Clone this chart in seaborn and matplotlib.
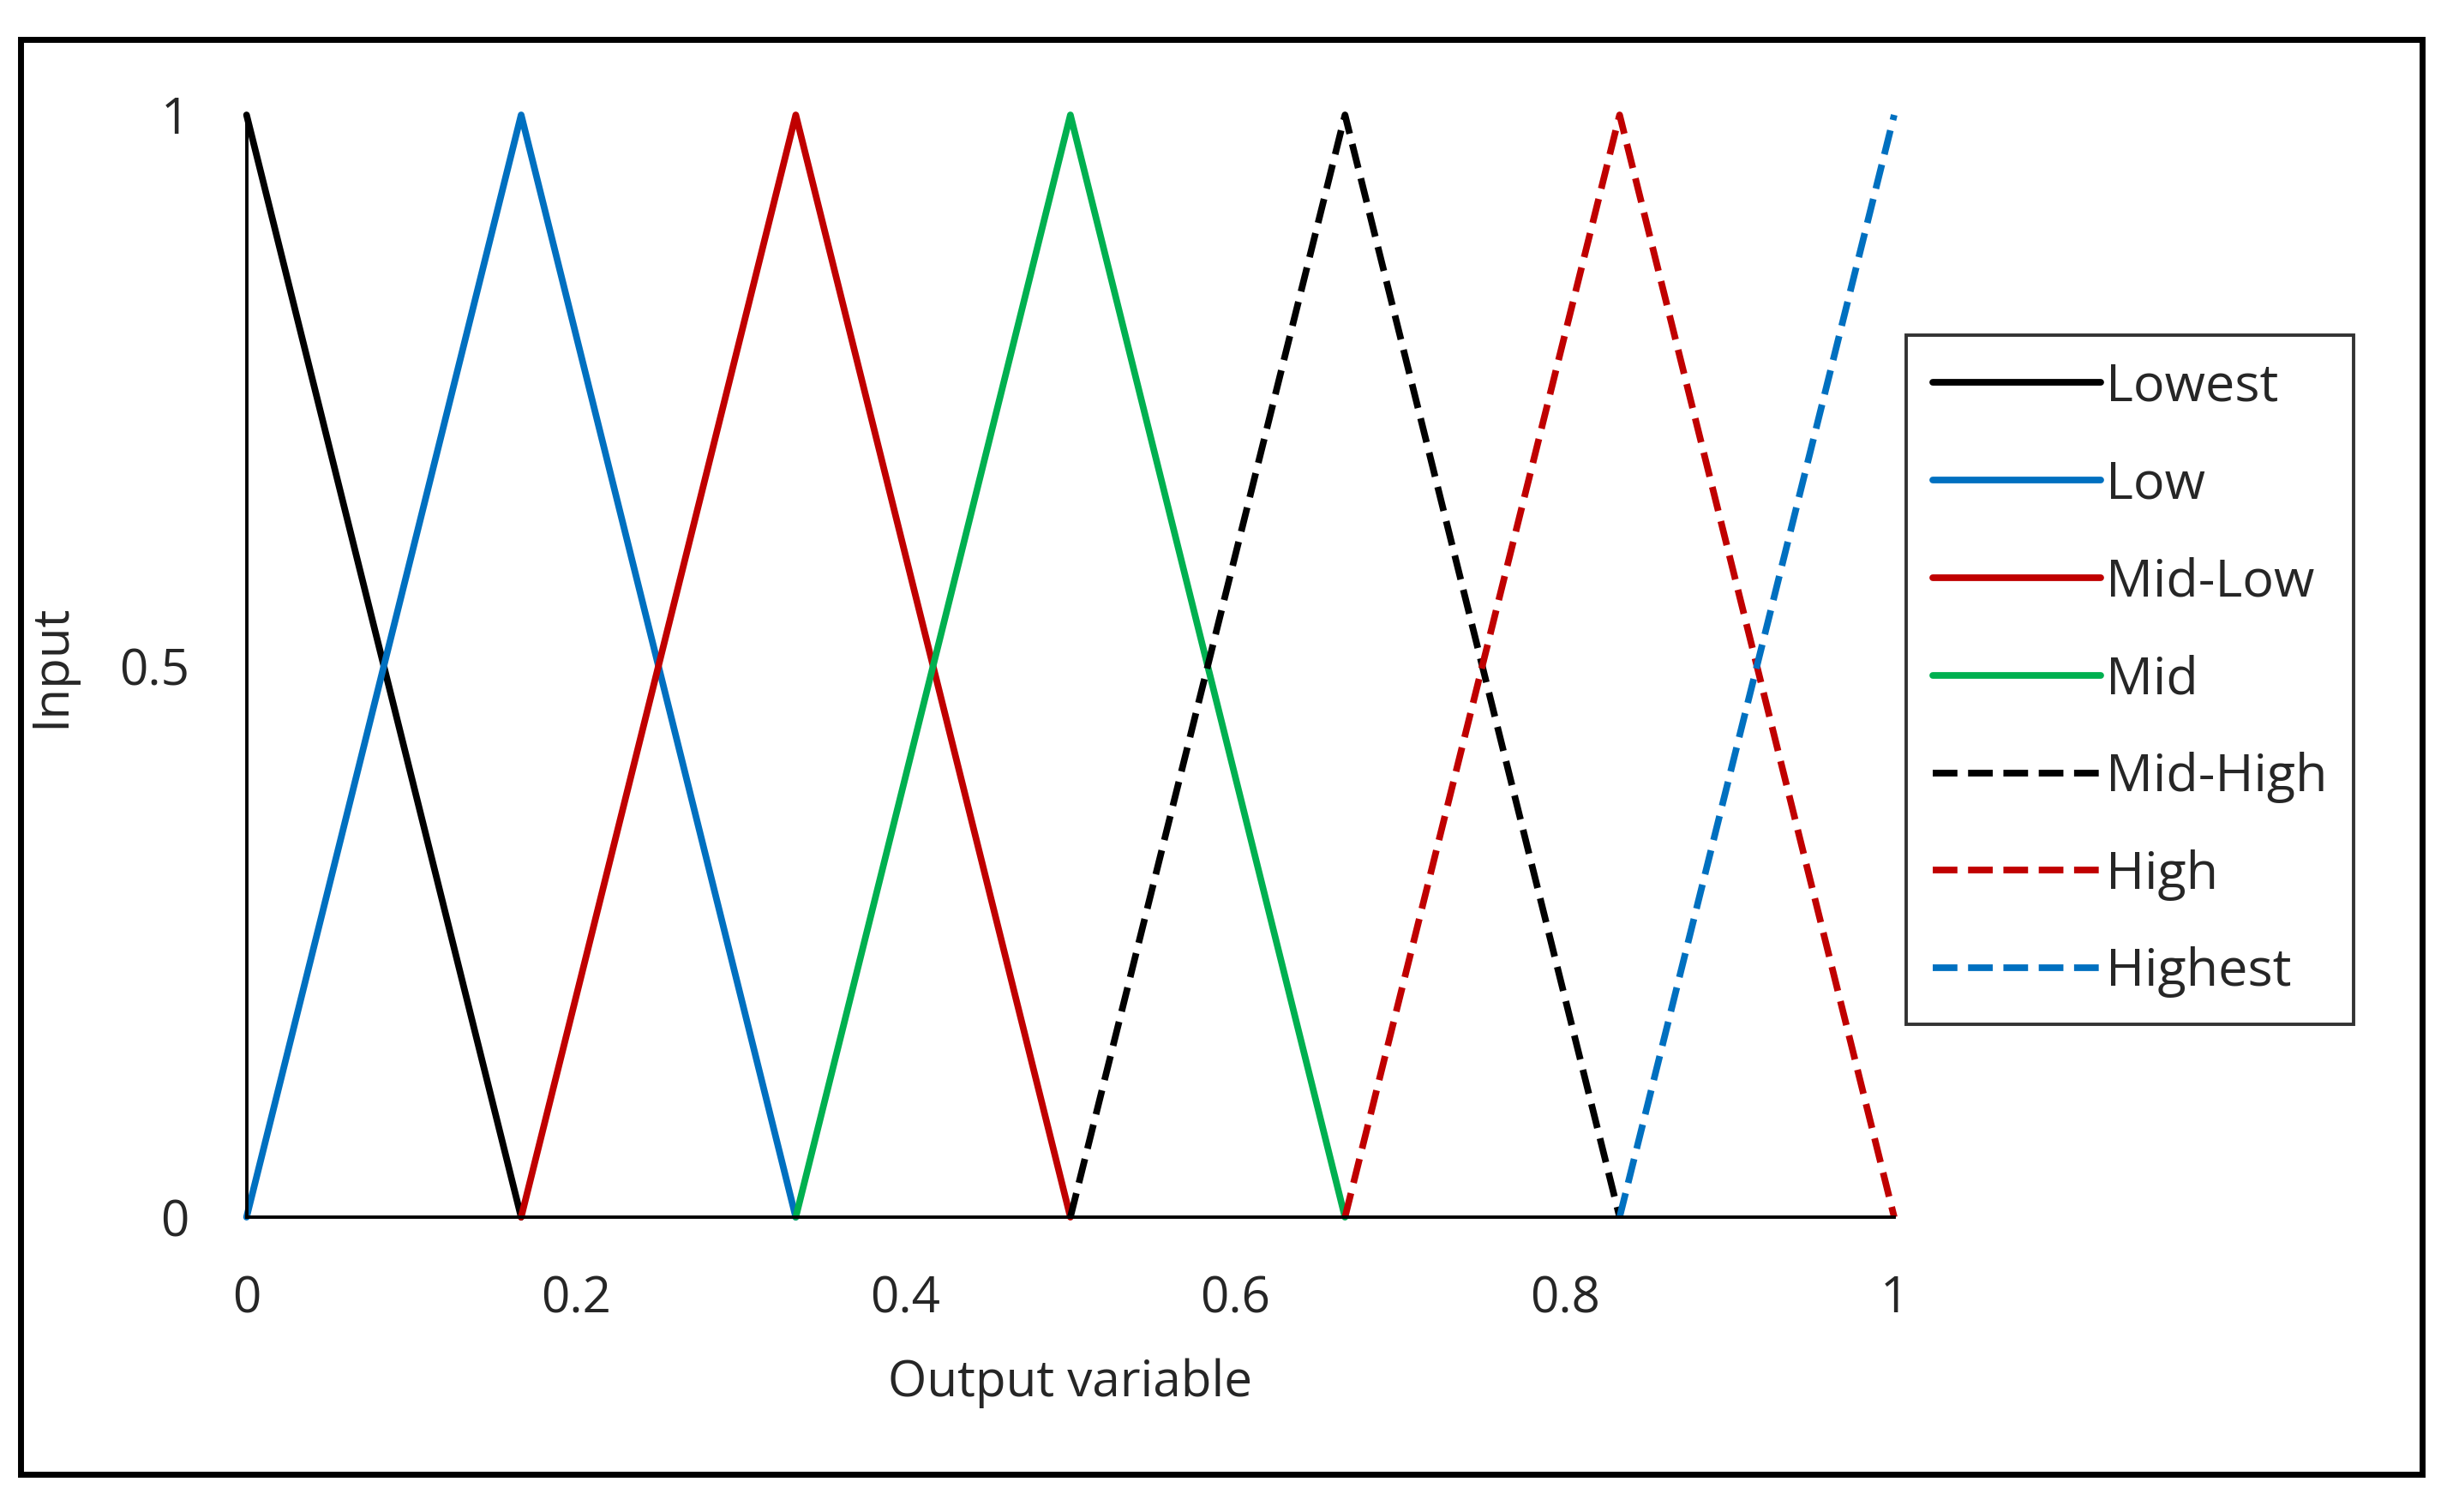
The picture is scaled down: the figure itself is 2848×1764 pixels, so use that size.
import matplotlib
matplotlib.use("Agg")
import matplotlib.pyplot as plt
import seaborn as sns
import pandas as pd
from matplotlib.patches import Rectangle

names = ["Lowest", "Low", "Mid-Low", "Mid", "Mid-High", "High", "Highest"]
xs = [[0, 1/6], [0, 1/6, 2/6], [1/6, 2/6, 3/6], [2/6, 3/6, 4/6],
      [3/6, 4/6, 5/6], [4/6, 5/6, 1], [5/6, 1]]
ys = [[1, 0], [0, 1, 0], [0, 1, 0], [0, 1, 0], [0, 1, 0], [0, 1, 0], [0, 1]]
colors = ["#000000", "#0070C0", "#C00000", "#00B050", "#000000", "#C00000", "#0070C0"]
styles = ["-", "-", "-", "-", "--", "--", "--"]

sns.set_style("white")
plt.rcParams['font.family'] = ['Open Sans', 'DejaVu Sans']
fig = plt.figure(figsize=(14.24, 8.82), dpi=200)
ax = fig.add_axes([0.101, 0.195, 0.675, 0.729])
for n, x, y, c, s in zip(names, xs, ys, colors, styles):
    df = pd.DataFrame({"x": x, "y": y})
    sns.lineplot(data=df, x="x", y="y", ax=ax, color=c, linestyle=s, linewidth=2.8, label=n)
ax.set_xlim(0, 1)
ax.set_ylim(0, 1)
ax.set_xticks([0, 0.2, 0.4, 0.6, 0.8, 1])
ax.set_xticklabels(["0", "0.2", "0.4", "0.6", "0.8", "1"])
ax.set_yticks([0, 0.5, 1])
ax.set_yticklabels(["0", "0.5", "1"])
ax.tick_params(labelsize=21, length=0, pad=24)
ax.set_xlabel("Output variable", fontsize=21, labelpad=14)
ax.set_ylabel("Input", fontsize=21)
ax.yaxis.set_label_coords(-0.103, 0.5)
for sp in ["top", "right"]:
    ax.spines[sp].set_visible(False)
for sp in ["left", "bottom"]:
    ax.spines[sp].set_color("black")
    ax.spines[sp].set_linewidth(1.4)
for l in ax.lines:
    l.set_clip_on(False)
leg = ax.legend(loc="upper left", bbox_to_anchor=(1.0075, 0.8), fontsize=22,
                frameon=True, fancybox=False, edgecolor="black", handlelength=3.2,
                handletextpad=0.1, labelspacing=0.88, borderpad=0.5, borderaxespad=0)
leg.get_frame().set_linewidth(1.4)
fig.patches.append(Rectangle((0.0083, 0.025), 0.984, 0.949, transform=fig.transFigure,
                             fill=False, edgecolor="black", linewidth=2.5))
fig.savefig("out.png", dpi=200)
